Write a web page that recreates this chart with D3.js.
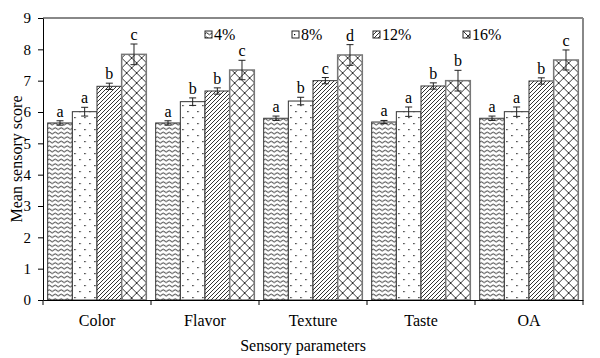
<!DOCTYPE html>
<html>
<head>
<meta charset="utf-8">
<script src="https://cdn.jsdelivr.net/npm/d3@7"></script>
<style>
  body { margin: 0; background: #fff; }
  svg text { font-family: "Liberation Serif", "Times New Roman", serif !important; fill: #000; }
</style>
</head>
<body>
<svg id="chart"></svg>
<script>
// data
const categories = ['Color', 'Flavor', 'Texture', 'Taste', 'OA'];
const levels = ['4%', '8%', '12%', '16%'];
const means = [
    [5.65, 6.01, 6.82, 7.84],
    [5.65, 6.33, 6.67, 7.34],
    [5.80, 6.35, 7.00, 7.82],
    [5.68, 6.01, 6.83, 7.00],
    [5.80, 6.01, 6.99, 7.66]
];
const errors = [
    [0.07, 0.14, 0.10, 0.33],
    [0.07, 0.12, 0.10, 0.31],
    [0.07, 0.12, 0.10, 0.33],
    [0.05, 0.15, 0.10, 0.33],
    [0.07, 0.15, 0.10, 0.32]
];
const letters = [
    ['a', 'a', 'b', 'c'],
    ['a', 'b', 'b', 'c'],
    ['a', 'b', 'c', 'd'],
    ['a', 'a', 'b', 'b'],
    ['a', 'a', 'b', 'c']
];
const yTicks = [0, 1, 2, 3, 4, 5, 6, 7, 8, 9];

const width = 600, height = 358;
const margin = {top: 18, right: 17, bottom: 58, left: 43};
const innerW = width - margin.left - margin.right;
const innerH = height - margin.top - margin.bottom;

const svg = d3.select('#chart').attr('width', width).attr('height', height);

// fill patterns
const defs = svg.append('defs');
const pats = ['wave', 'dots', 'diag', 'cross'];

let p = defs.append('pattern').attr('id', 'wave').attr('patternUnits', 'userSpaceOnUse')
    .attr('width', 6).attr('height', 4.5);
p.append('rect').attr('width', 6).attr('height', 4.5).attr('fill', '#fff');
p.append('path').attr('d', 'M0,2.6 Q1.5,0.6 3,2.6 T6,2.6')
    .attr('fill', 'none').attr('stroke', '#000').attr('stroke-width', 0.9);

p = defs.append('pattern').attr('id', 'dots').attr('patternUnits', 'userSpaceOnUse')
    .attr('width', 10).attr('height', 12);
p.append('rect').attr('width', 10).attr('height', 12).attr('fill', '#fff');
p.append('rect').attr('x', 2).attr('y', 3).attr('width', 1.2).attr('height', 1.2).attr('fill', '#000');
p.append('rect').attr('x', 7).attr('y', 9).attr('width', 1.2).attr('height', 1.2).attr('fill', '#000');

p = defs.append('pattern').attr('id', 'diag').attr('patternUnits', 'userSpaceOnUse')
    .attr('width', 4).attr('height', 4);
p.append('rect').attr('width', 4).attr('height', 4).attr('fill', '#fff');
p.append('path').attr('d', 'M-1,1 l2,-2 M0,4 l4,-4 M3,5 l2,-2')
    .attr('stroke', '#000').attr('stroke-width', 0.8);

p = defs.append('pattern').attr('id', 'cross').attr('patternUnits', 'userSpaceOnUse')
    .attr('width', 10).attr('height', 10);
p.append('rect').attr('width', 10).attr('height', 10).attr('fill', '#fff');
p.append('path').attr('d', 'M0,0 L10,10 M10,0 L0,10')
    .attr('stroke', '#000').attr('stroke-width', 0.8);

const chart = svg.append('g')
    .attr('transform', `translate(${margin.left}, ${margin.top})`);

const x0 = d3.scaleBand().domain(categories).range([0, innerW]).paddingInner(0).paddingOuter(0);
const x1 = d3.scaleBand().domain(levels).range([0, x0.bandwidth()]).paddingInner(0).paddingOuter(0.19);
const y = d3.scaleLinear().domain([0, 9]).range([innerH, 0]);

// frame lines (top and right, grey)
chart.append('line').attr('x1', 0).attr('x2', innerW).attr('y1', y(9)).attr('y2', y(9))
    .attr('stroke', '#888').attr('stroke-width', 2);
chart.append('line').attr('x1', innerW).attr('x2', innerW).attr('y1', y(9)).attr('y2', innerH)
    .attr('stroke', '#888').attr('stroke-width', 2);

// bars
const rows = [];
categories.forEach((c, i) => levels.forEach((l, j) => {
    rows.push({cat: c, lvl: l, j: j, v: means[i][j], e: errors[i][j], t: letters[i][j]});
}));

const groups = chart.selectAll('g.bar').data(rows).join('g').attr('class', 'bar')
    .attr('transform', d => `translate(${x0(d.cat) + x1(d.lvl)}, 0)`);

groups.append('rect')
    .attr('x', 0)
    .attr('y', d => y(d.v))
    .attr('width', x1.bandwidth())
    .attr('height', d => innerH - y(d.v))
    .attr('fill', d => `url(#${pats[d.j]})`)
    .attr('stroke', d => d.j === 3 ? '#777' : '#333')
    .attr('stroke-width', d => d.j === 3 ? 1.5 : 1);

const bw = x1.bandwidth();
groups.append('path')
    .attr('d', d => {
        const cx = bw / 2, t = y(d.v + d.e), b = y(d.v - d.e);
        return `M${cx - 3.5},${t}H${cx + 3.5}M${cx},${t}V${b}M${cx - 3.5},${b}H${cx + 3.5}`;
    })
    .attr('stroke', '#222').attr('stroke-width', 1).attr('fill', 'none');

groups.append('text')
    .attr('x', bw / 2)
    .attr('y', d => y(d.v + d.e) - 4)
    .attr('text-anchor', 'middle')
    .attr('font-size', '16px')
    .text(d => d.t);

// axes
const yaxis = d3.axisLeft(y).tickValues(yTicks).tickSize(5).tickSizeOuter(0).tickPadding(7);
const yg = chart.append('g').call(yaxis);
yg.selectAll('text').attr('font-size', '15px');
yg.selectAll('line, path').attr('stroke', '#000');

const xaxis = d3.axisBottom(x0).tickSize(0).tickPadding(15);
const xg = chart.append('g').attr('transform', `translate(0, ${innerH})`).call(xaxis);
xg.selectAll('text').attr('font-size', '16px');
xg.select('.domain').attr('stroke', '#000');

// boundary ticks between categories
chart.append('g').selectAll('line')
    .data(categories.map(c => x0(c)).concat([innerW]))
    .join('line')
    .attr('x1', d => d).attr('x2', d => d)
    .attr('y1', innerH).attr('y2', innerH + 5)
    .attr('stroke', '#000');

// axis titles
svg.append('text')
    .attr('x', 303).attr('y', 351)
    .attr('text-anchor', 'middle').attr('font-size', '16px')
    .text('Sensory parameters');
svg.append('text')
    .attr('transform', `translate(22, ${margin.top + innerH / 2}) rotate(-90)`)
    .attr('text-anchor', 'middle').attr('font-size', '16px')
    .text('Mean sensory score');

// legend
const legendX = [205, 292, 373, 463];
const lg = svg.append('g').selectAll('g').data(levels).join('g')
    .attr('transform', (d, i) => `translate(${legendX[i]}, 31)`);
lg.append('rect').attr('width', 7).attr('height', 7)
    .attr('fill', (d, i) => `url(#${pats[i]})`)
    .attr('stroke', '#222').attr('stroke-width', 1);
lg.append('text').attr('x', 9).attr('y', 9).attr('font-size', '16px').text(d => d);
</script>
</body>
</html>
